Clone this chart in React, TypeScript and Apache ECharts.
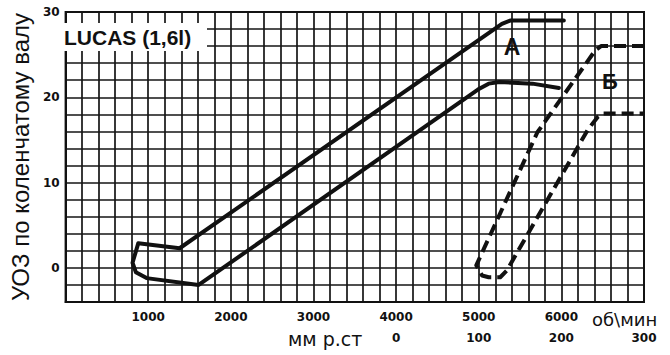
import React, { useEffect, useRef } from "react";
import * as echarts from "echarts";

// rpm tick labels on the main scale (об/мин)
const rpmTicks = [1000, 2000, 3000, 4000, 5000, 6000];
// vacuum scale (мм р.ст), its zero sits under 4000 rpm
const vacuumTicks = [0, 100, 200, 300];
// advance angle ticks (degrees of crankshaft)
const degTicks = [0, 10, 20, 30];

// Solid curve: centrifugal advance, upper branch (A) -> low-rpm loop -> lower branch
const solidCurve: [number, number][] = [
  [6030, 29.0],
  [5380, 29.0],
  [5280, 28.6],
  [1380, 2.3],
  [880, 2.9],
  [810, 0.6],
  [850, -0.5],
  [980, -1.2],
  [1610, -2.0],
  [4990, 20.9],
  [5120, 21.6],
  [5250, 21.8],
  [5650, 21.6],
  [5970, 21.1],
];

// Dashed curve: vacuum advance (Б), left branch down, bottom, right branch up
const dashedCurve: [number, number][] = [
  [7000, 26.0],
  [6480, 26.0],
  [6410, 25.5],
  [5710, 15.9],
  [4970, 0.3],
  [5040, -0.9],
  [5120, -1.1],
  [5260, -1.1],
  [5340, -0.3],
  [6320, 16.2],
  [6440, 17.7],
  [6500, 18.1],
  [7000, 18.1],
];

const INK = "#111";

export default function App() {
  const ref = useRef<HTMLDivElement>(null);
  useEffect(() => {
    if (!ref.current) return;
    const chart = echarts.init(ref.current, undefined, { renderer: "svg" });
    const tickFont = {
      color: INK,
      fontFamily: "DejaVu Sans",
      fontWeight: "bold" as const,
      fontSize: 12,
    };
    chart.setOption({
      animation: false,
      backgroundColor: "#fff",
      grid: {
        left: 50,
        right: 26,
        top: 12,
        bottom: 53,
        show: true,
        borderColor: INK,
        borderWidth: 2,
        backgroundColor: "transparent",
      },
      xAxis: [
        {
          type: "value",
          min: 0,
          max: 7000,
          interval: 200,
          position: "bottom",
          axisLine: { show: true, onZero: false, lineStyle: { color: INK, width: 2 } },
          axisTick: { show: false },
          splitLine: { show: true, lineStyle: { color: "#151515", width: 1.7 } },
          axisLabel: {
            ...tickFont,
            margin: 9,
            showMinLabel: true,
            showMaxLabel: true,
            formatter: (v: number) => (rpmTicks.includes(v) ? String(v) : ""),
          },
        },
        {
          type: "value",
          min: -400,
          max: 300,
          interval: 100,
          position: "bottom",
          offset: 21,
          axisLine: { show: false, onZero: false },
          axisTick: { show: false },
          splitLine: { show: false },
          axisLabel: {
            ...tickFont,
            margin: 9,
            showMinLabel: true,
            showMaxLabel: true,
            formatter: (v: number) => (vacuumTicks.includes(v) ? String(v) : ""),
          },
        },
      ],
      yAxis: {
        type: "value",
        min: -4,
        max: 30,
        interval: 2,
        axisLine: { show: true, onZero: false, lineStyle: { color: INK, width: 2 } },
        axisTick: { show: false },
        splitLine: { show: true, lineStyle: { color: "#151515", width: 1.7 } },
        axisLabel: {
          ...tickFont,
          margin: 6,
          showMinLabel: true,
          showMaxLabel: true,
          formatter: (v: number) => (degTicks.includes(v) ? String(v) : ""),
        },
        name: "УОЗ по коленчатому валу",
        nameLocation: "middle",
        nameGap: 25,
        nameTextStyle: {
          color: INK,
          fontFamily: "Liberation Sans",
          fontSize: 24,
        },
      },
      series: [
        {
          type: "line",
          xAxisIndex: 0,
          data: solidCurve,
          showSymbol: false,
          symbol: "none",
          lineStyle: { color: INK, width: 4, join: "round", cap: "round" },
          z: 5,
        },
        {
          type: "line",
          xAxisIndex: 0,
          data: dashedCurve,
          showSymbol: false,
          symbol: "none",
          lineStyle: { color: INK, width: 4, type: [12, 6], join: "round" },
          z: 5,
        },
      ],
      graphic: [
        {
          type: "rect",
          z: 100,
          shape: { x: 51, y: 23, width: 156, height: 28 },
          style: { fill: "#fff" },
        },
        {
          type: "text",
          z: 101,
          x: 64,
          y: 37,
          style: {
            text: "LUCAS (1,6l)",
            fill: INK,
            fontFamily: "Liberation Sans",
            fontWeight: "bold",
            fontSize: 21,
            verticalAlign: "middle",
          },
        },
        {
          type: "text",
          z: 101,
          x: 512,
          y: 47,
          style: {
            text: "А",
            fill: INK,
            fontFamily: "Liberation Sans",
            fontWeight: "bold",
            fontSize: 23,
            align: "center",
            verticalAlign: "middle",
          },
        },
        {
          type: "text",
          z: 101,
          x: 610,
          y: 81,
          style: {
            text: "Б",
            fill: INK,
            fontFamily: "Liberation Sans",
            fontWeight: "bold",
            fontSize: 22,
            align: "center",
            verticalAlign: "middle",
          },
        },
        {
          type: "text",
          z: 101,
          x: 592,
          y: 319,
          style: {
            text: "об\\мин",
            fill: INK,
            fontFamily: "DejaVu Sans",
            fontSize: 18,
            verticalAlign: "middle",
          },
        },
        {
          type: "text",
          z: 101,
          x: 288,
          y: 339,
          style: {
            text: "мм р.ст",
            fill: INK,
            fontFamily: "DejaVu Sans",
            fontSize: 19,
            verticalAlign: "middle",
          },
        },
      ],
    });
    return () => chart.dispose();
  }, []);
  return (
    <div
      ref={ref}
      style={{ position: "fixed", left: 0, top: 0, width: 670, height: 355 }}
    />
  );
}
